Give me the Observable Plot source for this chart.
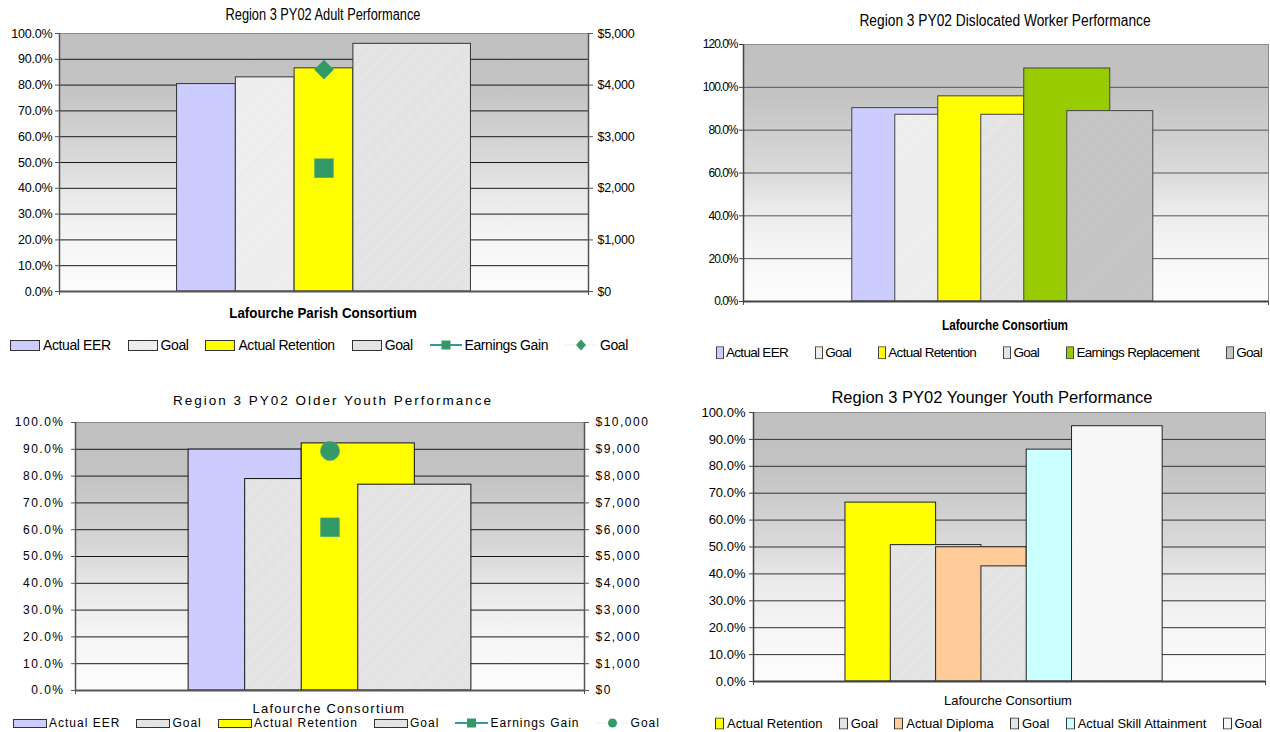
<!DOCTYPE html>
<html><head><meta charset="utf-8">
<script src="https://cdn.jsdelivr.net/npm/d3@7"></script>
<script src="https://cdn.jsdelivr.net/npm/@observablehq/plot@0.6"></script>
<style>
body{margin:0;background:#fff;font-family:"Liberation Sans",Arial,sans-serif;color:#000;}
#root{position:relative;width:1270px;height:732px;overflow:hidden;}
</style></head><body>
<svg width="0" height="0" style="position:absolute">
<defs>
<linearGradient id="bg" x1="0" y1="0" x2="0" y2="1">
<stop offset="0" stop-color="#c0c0c0"/><stop offset="0.2" stop-color="#c3c3c3"/>
<stop offset="0.5" stop-color="#dadada"/><stop offset="0.62" stop-color="#e9e9e9"/>
<stop offset="0.8" stop-color="#f5f5f5"/><stop offset="1" stop-color="#fdfdfd"/>
</linearGradient>
<pattern id="hatchLight" width="2" height="2" patternUnits="userSpaceOnUse" patternTransform="rotate(45)"><rect width="2" height="2" fill="#f5f5f5"/><line x1="0.5" y1="0" x2="0.5" y2="2" stroke="#e6e6e6" stroke-width="1"/></pattern>
<pattern id="hatchMid" width="2" height="2" patternUnits="userSpaceOnUse" patternTransform="rotate(45)"><rect width="2" height="2" fill="#f0f0f0"/><line x1="0.5" y1="0" x2="0.5" y2="2" stroke="#d8d8d8" stroke-width="1"/></pattern>
<pattern id="hatchDark" width="2" height="2" patternUnits="userSpaceOnUse" patternTransform="rotate(45)"><rect width="2" height="2" fill="#cdcdcd"/><line x1="0.5" y1="0" x2="0.5" y2="2" stroke="#bdbdbd" stroke-width="1"/></pattern>
<pattern id="hatchWhite" width="2" height="2" patternUnits="userSpaceOnUse" patternTransform="rotate(45)"><rect width="2" height="2" fill="#fcfcfc"/><line x1="0.5" y1="0" x2="0.5" y2="2" stroke="#f2f2f2" stroke-width="1"/></pattern>
</defs></svg>
<div id="root"></div>
<script>
// ---------------- DATA ----------------
const pctTicks10 = [0, 0.1, 0.2, 0.3, 0.4, 0.5, 0.6, 0.7, 0.8, 0.9, 1.0];
const pctTicks20 = [0, 0.2, 0.4, 0.6, 0.8, 1.0, 1.2];
const dollarTicks5k = [0, 1000, 2000, 3000, 4000, 5000];
const dollarTicks10k = [0, 1000, 2000, 3000, 4000, 5000, 6000, 7000, 8000, 9000, 10000];

// Adult
const adultTitle = "Region 3 PY02 Adult Performance";
const adultCategory = "Lafourche Parish Consortium";
const adultSeries = ["Actual EER", "Goal", "Actual Retention", "Goal"];
const adultValues = [0.804, 0.830, 0.865, 0.960];
const adultLineSeries = ["Earnings Gain", "Goal"];
const adultLineValues = [2390, 4300];

// Dislocated Worker
const dwTitle = "Region 3 PY02 Dislocated Worker Performance";
const dwCategory = "Lafourche Consortium";
const dwSeries = ["Actual EER", "Goal", "Actual Retention", "Goal", "Earnings Replacement", "Goal"];
const dwValues = [0.903, 0.872, 0.958, 0.872, 1.088, 0.889];

// Older Youth
const oyTitle = "Region 3 PY02 Older Youth Performance";
const oyCategory = "Lafourche Consortium";
const oySeries = ["Actual EER", "Goal", "Actual Retention", "Goal"];
const oyValues = [0.899, 0.789, 0.922, 0.768];
const oyLineSeries = ["Earnings Gain", "Goal"];
const oyLineValues = [6090, 8940];

// Younger Youth
const yyTitle = "Region 3 PY02 Younger Youth Performance";
const yyCategory = "Lafourche Consortium";
const yySeries = ["Actual Retention", "Goal", "Actual Diploma", "Goal", "Actual Skill Attainment", "Goal"];
const yyValues = [0.665, 0.507, 0.499, 0.428, 0.862, 0.949];

// ---------------- HELPERS ----------------
const root = document.getElementById("root");
const MARK = "#339966";

function addText(x, y, str, css, sx) {
  const d = document.createElement("div");
  d.textContent = str;
  Object.assign(d.style, {position: "absolute", left: x + "px", top: y + "px",
    transform: "translate(-50%,-50%)" + (sx ? ` scaleX(${sx})` : ""), whiteSpace: "nowrap", lineHeight: "1"}, css);
  root.appendChild(d);
}

function rectSwatch(w, h, fill, stroke) {
  return `<svg width="${w}" height="${h}" style="display:block"><rect x="0.5" y="0.5" width="${w - 1}" height="${h - 1}" fill="${fill}" stroke="${stroke}"/></svg>`;
}
function lineSwatch(w, symbol, solid) {
  const h = 12, c = w / 2, m = h / 2;
  const line = solid
    ? `<line x1="0" y1="${m}" x2="${w}" y2="${m}" stroke="#339999" stroke-width="2"/>`
    : `<line x1="0" y1="${m}" x2="${w}" y2="${m}" stroke="#cfe8dc" stroke-width="1.2" stroke-dasharray="1.5 1.5"/>`;
  let sym;
  if (symbol === "square") sym = `<rect x="${c - 4.5}" y="${m - 4.5}" width="9" height="9" fill="${MARK}"/>`;
  else if (symbol === "diamond") sym = `<path d="M${c},${m - 5.5}L${c + 5},${m}L${c},${m + 5.5}L${c - 5},${m}Z" fill="${MARK}"/>`;
  else sym = `<circle cx="${c}" cy="${m}" r="4.5" fill="${MARK}"/>`;
  return `<svg width="${w}" height="${h}" style="display:block">${line}${sym}</svg>`;
}

function addLegend(left, cy, width, items, css, gap) {
  const d = document.createElement("div");
  Object.assign(d.style, {position: "absolute", left: left + "px", top: cy + "px", width: width + "px",
    transform: "translateY(-50%)", display: "flex", justifyContent: "space-between", alignItems: "center",
    whiteSpace: "nowrap", lineHeight: "1"}, css);
  for (const it of items) {
    const s = document.createElement("span");
    s.style.display = "flex"; s.style.alignItems = "center";
    s.innerHTML = it.swatch + `<span style="margin-left:${gap}px">${it.label}</span>`;
    d.appendChild(s);
  }
  root.appendChild(d);
}

function drawPanel(p) {
  const n = p.series.length;
  const total = (n - 1) * p.step + p.widths[n - 1];
  const bars = p.series.map((s, i) => {
    const x1 = -total / 2 + i * p.step;
    return {series: s, value: p.values[i], x1, x2: x1 + p.widths[i], fill: p.fills[i]};
  });
  const [lo, hi] = p.xDomain;
  const marks = [
    Plot.frame({fill: "url(#bg)", stroke: p.frameColor}),
    Plot.ruleY(p.yTicks.filter(t => t > 0 && t < p.yMax), {stroke: p.gridColor, strokeWidth: 1}),
    ...bars.map(b => Plot.rect([b], {x1: "x1", x2: "x2", y1: 0, y2: "value", fill: b.fill, stroke: p.barStroke, strokeWidth: 1})),
    Plot.ruleX([lo], {stroke: p.axisColor, strokeWidth: 1.5}),
    Plot.ruleY([0], {stroke: p.axisColor, strokeWidth: 2}),
    Plot.axisY({ticks: p.yTicks, tickFormat: d3.format(".1%"), tickSize: 4, tickPadding: p.tickPad, stroke: p.axisColor, label: null}),
    Plot.axisX({ticks: [lo, hi], tickFormat: () => "", tickSize: 4, stroke: p.axisColor, label: null})
  ];
  if (p.secondary) {
    const sc = p.secondary;
    marks.push(
      Plot.ruleX([hi], {stroke: p.axisColor, strokeWidth: 1.5}),
      Plot.axisY({anchor: "right", ticks: sc.ticks.map(d => d / sc.max),
        tickFormat: d => "$" + d3.format(",")(Math.round(d * sc.max)),
        tickSize: 4, tickPadding: sc.tickPad, stroke: p.axisColor, label: null}),
      ...sc.values.map((v, i) => Plot.dot([{series: sc.series[i], value: v / sc.max}],
        {x: () => 0, y: "value", symbol: sc.symbols[i], r: sc.radii[i], fill: MARK, stroke: "#4aa874", strokeWidth: 0.8}))
    );
  }
  const svg = Plot.plot({
    width: p.width, height: p.height,
    marginLeft: p.margin[0], marginRight: p.margin[1], marginTop: p.margin[2], marginBottom: p.margin[3],
    x: {type: "linear", domain: [lo, hi]},
    y: {type: "linear", domain: [0, p.yMax]},
    style: Object.assign({background: "transparent", fontFamily: "Liberation Sans, Arial, sans-serif", color: "#000", overflow: "visible", maxWidth: "none"}, p.fontStyle),
    marks
  });
  Object.assign(svg.style, {position: "absolute", left: p.left + "px", top: p.top + "px"});
  root.appendChild(svg);
}

// ---------------- PANEL 1: Adult ----------------
drawPanel({
  series: adultSeries, values: adultValues,
  fills: ["#ccccff", "url(#hatchLight)", "#ffff00", "url(#hatchMid)"],
  widths: [1, 1, 1, 2], step: 1, xDomain: [-4.5, 4.5],
  yMax: 1, yTicks: pctTicks10, tickPad: 3,
  left: 0, top: 25, width: 645, height: 275, margin: [59, 57, 8, 9],
  frameColor: "#8a8a8a", gridColor: "#1a1a1a", axisColor: "#555", barStroke: "#333",
  fontStyle: {fontSize: "12.5px", letterSpacing: "-0.2px"},
  secondary: {series: adultLineSeries, values: adultLineValues, max: 5000, ticks: dollarTicks5k, tickPad: 5,
    symbols: ["square", "diamond2"], radii: [10.5, 8.6]}
});
addText(323, 15, adultTitle, {fontSize: "16px"}, 0.8);
addText(323, 313, adultCategory, {fontSize: "14.5px", fontWeight: "bold"}, 0.92);
addLegend(10, 345, 618, [
  {swatch: rectSwatch(30, 11, "#ccccff", "#333"), label: adultSeries[0]},
  {swatch: rectSwatch(30, 11, "url(#hatchLight)", "#333"), label: adultSeries[1]},
  {swatch: rectSwatch(30, 11, "#ffff00", "#333"), label: adultSeries[2]},
  {swatch: rectSwatch(30, 11, "url(#hatchMid)", "#333"), label: adultSeries[3]},
  {swatch: lineSwatch(32, "square", true), label: adultLineSeries[0]},
  {swatch: lineSwatch(32, "diamond", false), label: adultLineSeries[1]}
], {fontSize: "14px", letterSpacing: "-0.4px"}, 3);

// ---------------- PANEL 2: Dislocated Worker ----------------
drawPanel({
  series: dwSeries, values: dwValues,
  fills: ["#ccccff", "url(#hatchLight)", "#ffff00", "url(#hatchMid)", "#99cc00", "url(#hatchDark)"],
  widths: [2, 2, 2, 2, 2, 2], step: 1, xDomain: [-6.03, 6.18],
  yMax: 1.2, yTicks: pctTicks20, tickPad: 2,
  left: 640, top: 35, width: 630, height: 272, margin: [103, 2, 9, 6],
  frameColor: "#8a8a8a", gridColor: "#555", axisColor: "#444", barStroke: "#444",
  fontStyle: {fontSize: "12px", letterSpacing: "-1px"}
});
addText(1005, 21, dwTitle, {fontSize: "16px"}, 0.86);
addText(1005, 325, dwCategory, {fontSize: "14px", fontWeight: "bold"}, 0.84);
addLegend(716, 353, 546, [
  {swatch: rectSwatch(8, 13, "#ccccff", "#444"), label: dwSeries[0]},
  {swatch: rectSwatch(8, 13, "url(#hatchLight)", "#444"), label: dwSeries[1]},
  {swatch: rectSwatch(8, 13, "#ffff00", "#444"), label: dwSeries[2]},
  {swatch: rectSwatch(8, 13, "url(#hatchMid)", "#444"), label: dwSeries[3]},
  {swatch: rectSwatch(8, 13, "#99cc00", "#444"), label: dwSeries[4]},
  {swatch: rectSwatch(8, 13, "url(#hatchDark)", "#444"), label: dwSeries[5]}
], {fontSize: "13.5px", letterSpacing: "-0.7px"}, 2);

// ---------------- PANEL 3: Older Youth ----------------
drawPanel({
  series: oySeries, values: oyValues,
  fills: ["#ccccff", "url(#hatchMid)", "#ffff00", "url(#hatchMid)"],
  widths: [2, 2, 2, 2], step: 1, xDomain: [-4.5, 4.5],
  yMax: 1, yTicks: pctTicks10, tickPad: 7,
  left: 0, top: 412, width: 660, height: 285, margin: [75, 76, 10, 7],
  frameColor: "#8a8a8a", gridColor: "#1a1a1a", axisColor: "#555", barStroke: "#111",
  fontStyle: {fontSize: "12px", letterSpacing: "1.5px"},
  secondary: {series: oyLineSeries, values: oyLineValues, max: 10000, ticks: dollarTicks10k, tickPad: 7,
    symbols: ["square", "circle"], radii: [10.5, 9.5]}
});
addText(333, 401, oyTitle, {fontSize: "13.5px", letterSpacing: "2px"});
addText(329, 708, oyCategory, {fontSize: "13px", letterSpacing: "1.25px"});
addLegend(13, 723, 647, [
  {swatch: rectSwatch(34, 9, "#ccccff", "#333"), label: oySeries[0]},
  {swatch: rectSwatch(34, 9, "url(#hatchMid)", "#333"), label: oySeries[1]},
  {swatch: rectSwatch(34, 9, "#ffff00", "#333"), label: oySeries[2]},
  {swatch: rectSwatch(34, 9, "url(#hatchMid)", "#333"), label: oySeries[3]},
  {swatch: lineSwatch(33, "square", true), label: oyLineSeries[0]},
  {swatch: lineSwatch(33, "circle", false), label: oyLineSeries[1]}
], {fontSize: "12px", letterSpacing: "1px"}, 2);

// ---------------- PANEL 4: Younger Youth ----------------
drawPanel({
  series: yySeries, values: yyValues,
  fills: ["#ffff00", "url(#hatchMid)", "#ffcc99", "url(#hatchMid)", "#ccffff", "url(#hatchWhite)"],
  widths: [2, 2, 2, 2, 2, 2], step: 1, xDomain: [-5.53, 5.77],
  yMax: 1, yTicks: pctTicks10, tickPad: 4,
  left: 640, top: 405, width: 630, height: 283, margin: [113, 5, 7, 7],
  frameColor: "#8a8a8a", gridColor: "#333", axisColor: "#444", barStroke: "#222",
  fontStyle: {fontSize: "13px"}
});
addText(992, 397, yyTitle, {fontSize: "16.5px"});
addText(1008, 700, yyCategory, {fontSize: "13px"});
addLegend(715, 723, 547, [
  {swatch: rectSwatch(9, 12, "#ffff00", "#333"), label: yySeries[0]},
  {swatch: rectSwatch(9, 12, "url(#hatchMid)", "#333"), label: yySeries[1]},
  {swatch: rectSwatch(9, 12, "#ffcc99", "#333"), label: yySeries[2]},
  {swatch: rectSwatch(9, 12, "url(#hatchMid)", "#333"), label: yySeries[3]},
  {swatch: rectSwatch(9, 12, "#ccffff", "#333"), label: yySeries[4]},
  {swatch: rectSwatch(9, 12, "url(#hatchWhite)", "#333"), label: yySeries[5]}
], {fontSize: "13px"}, 3);
</script>
</body></html>
